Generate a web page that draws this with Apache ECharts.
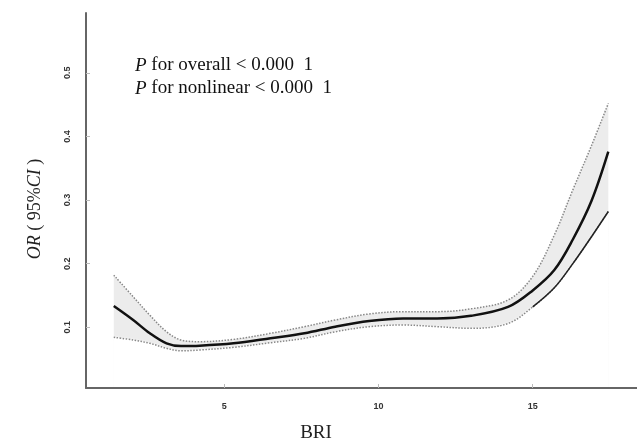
<!DOCTYPE html>
<html>
<head>
<meta charset="utf-8">
<script src="https://cdn.jsdelivr.net/npm/echarts@6/dist/echarts.min.js"></script>
<style>
  html, body { margin: 0; padding: 0; background: #fff; }
  #chart { width: 637px; height: 441px; }
</style>
</head>
<body>
<div id="chart"></div>
<script>
// BRI values
const bri = [1.42, 2.05, 2.59, 3.13, 3.6, 4.2, 5.3, 6.5, 7.6, 8.6, 9.7, 10.8, 11.9, 13.0, 14.2, 15.0, 15.7, 16.3, 16.9, 17.45];
// OR estimate and 95% CI bounds
const orMain = [0.1335, 0.1115, 0.0906, 0.0748, 0.0706, 0.0711, 0.0748, 0.0827, 0.0905, 0.101, 0.110, 0.114, 0.114, 0.118, 0.132, 0.158, 0.19, 0.238, 0.298, 0.376];
const ciUpper = [0.182, 0.148, 0.119, 0.093, 0.080, 0.0774, 0.081, 0.0905, 0.101, 0.1115, 0.121, 0.1246, 0.1246, 0.129, 0.143, 0.18, 0.245, 0.316, 0.385, 0.452];
const ciLower = [0.0843, 0.080, 0.0748, 0.067, 0.063, 0.0643, 0.0685, 0.0758, 0.0827, 0.093, 0.101, 0.1036, 0.101, 0.0984, 0.106, 0.132, 0.162, 0.200, 0.242, 0.282];
// tick labels
const xTicks = [5, 10, 15];
const yTicks = [0.1, 0.2, 0.3, 0.4, 0.5];
// lower bound is drawn solid from this index on
const solidFrom = 15;

const pairs = (xs, ys) => xs.map((x, i) => [x, ys[i]]);

const chart = echarts.init(document.getElementById('chart'));
const serif = 'Liberation Serif, Times New Roman, serif';
const tickFont = { color: '#333', fontSize: 9, fontWeight: 'bold', fontFamily: 'Liberation Sans, Arial, sans-serif' };
const smooth = 0.35;

const option = {
  animation: false,
  grid: { left: 86, right: 0, top: 13, bottom: 53 },
  xAxis: {
    type: 'value',
    min: 0.52,
    max: 18.38,
    z: 10,
    axisLine: { show: true, onZero: false, lineStyle: { color: '#666', width: 2 } },
    axisTick: { show: true, inside: true, length: 4, customValues: xTicks, lineStyle: { color: '#bbb' } },
    axisLabel: Object.assign({ margin: 14, customValues: xTicks }, tickFont),
    splitLine: { show: false }
  },
  yAxis: {
    type: 'value',
    min: 0.0046,
    max: 0.594,
    z: 10,
    axisLine: { show: true, onZero: false, lineStyle: { color: '#666', width: 2 } },
    axisTick: { show: true, inside: true, length: 4, customValues: yTicks, lineStyle: { color: '#bbb' } },
    axisLabel: Object.assign({ margin: 14, rotate: 90, customValues: yTicks, formatter: v => v.toFixed(1) }, tickFont),
    splitLine: { show: false }
  },
  graphic: [
    {
      // y axis title
      type: 'text', x: 35, y: 209, rotation: Math.PI / 2,
      style: {
        text: '{i|OR}{n| ( 95%}{i|CI}{n| )}',
        align: 'center', verticalAlign: 'middle',
        rich: {
          i: { fontFamily: serif, fontSize: 18, fontStyle: 'italic', fill: '#222' },
          n: { fontFamily: serif, fontSize: 18, fill: '#222' }
        }
      }
    },
    {
      type: 'text', x: 316, y: 433,
      style: { text: 'BRI', fontFamily: serif, fontSize: 19, fill: '#222', align: 'center', verticalAlign: 'middle' }
    },
    {
      type: 'text', left: 135, top: 56,
      style: {
        text: '{i|P}{n| for overall < 0.000  1}\n{i|P}{n| for nonlinear < 0.000  1}',
        rich: {
          i: { fontFamily: serif, fontSize: 19, fontStyle: 'italic', fill: '#111', lineHeight: 23 },
          n: { fontFamily: serif, fontSize: 19, fill: '#111', lineHeight: 23 }
        }
      }
    }
  ],
  series: [
    {
      // grey CI band: fill under the upper bound, then mask under the lower bound
      name: 'bandUpper', type: 'line', data: pairs(bri, ciUpper),
      smooth, symbol: 'none', lineStyle: { opacity: 0 },
      areaStyle: { color: '#ececec', opacity: 1 }, silent: true, z: 1
    },
    {
      name: 'bandLower', type: 'line', data: pairs(bri, ciLower),
      smooth, symbol: 'none', lineStyle: { opacity: 0 },
      areaStyle: { color: '#fff', opacity: 1, shadowColor: '#fff', shadowBlur: 3 }, silent: true, z: 1
    },
    {
      name: 'upper', type: 'line', data: pairs(bri, ciUpper),
      smooth, symbol: 'none', lineStyle: { color: '#888', width: 1.5, type: [1.5, 1.5] }, z: 3
    },
    {
      name: 'lower', type: 'line', data: pairs(bri, ciLower),
      smooth, symbol: 'none', lineStyle: { color: '#888', width: 1.5, type: [1.5, 1.5] }, z: 3
    },
    {
      name: 'lowerSolid', type: 'line', data: pairs(bri.slice(solidFrom), ciLower.slice(solidFrom)),
      smooth, symbol: 'none', lineStyle: { color: '#222', width: 1.5 }, z: 4
    },
    {
      name: 'OR', type: 'line', data: pairs(bri, orMain),
      smooth, symbol: 'none', lineStyle: { color: '#111', width: 2.5 }, z: 5
    }
  ]
};

chart.setOption(option);
</script>
</body>
</html>
